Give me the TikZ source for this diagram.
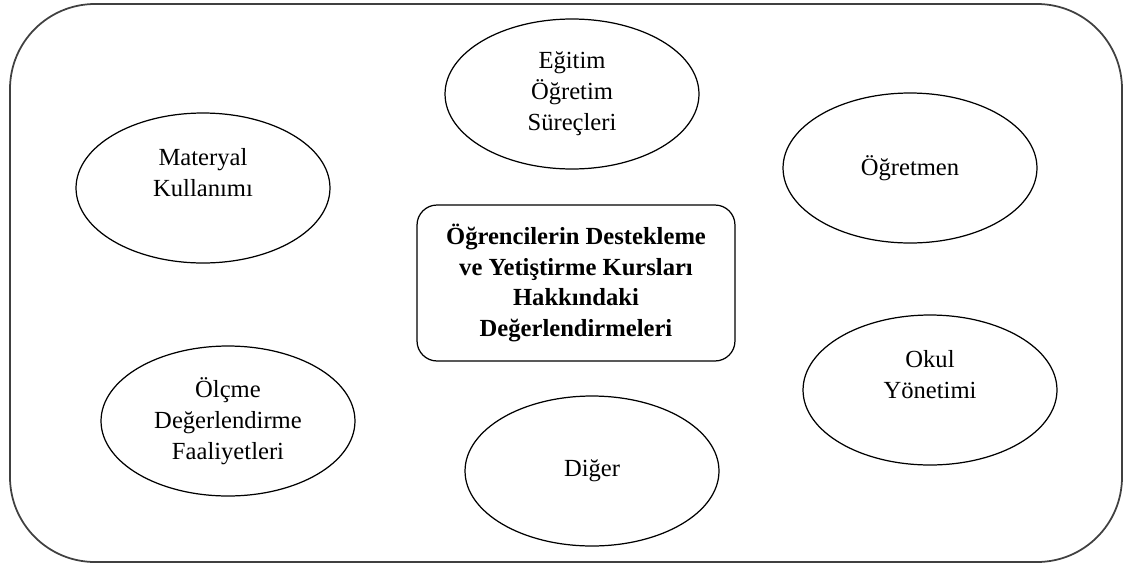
\documentclass[tikz,border=0pt]{standalone}
\usepackage{fontspec}
\setmainfont{Liberation Serif}
\usetikzlibrary{shapes.geometric}

\tikzset{
	oval/.style={draw, ellipse, inner sep=0pt, minimum width=5.08cm, minimum height=3cm, line width=0.7pt, align=center, font=\fontsize{14}{17.6}\selectfont},
	ovaltext/.style={align=center, inner sep=0pt, font=\fontsize{14}{17.6}\selectfont},
	konu/.style={draw, rounded corners=0.4cm, minimum width=6.36cm, minimum height=3.12cm, line width=0.7pt, align=center, font=\fontsize{14}{17.6}\selectfont\bfseries}
}

\begin{document}
\begin{tikzpicture}[x=0.02cm, y=-0.02cm]
	\useasboundingbox (0,0) rectangle (1125,565);
	\draw[line width=1pt, black!75, rounded corners=1.7cm] (10,4) rectangle (1122,562);

	\node[konu] (konu) at (576,283) {Öğrencilerin Destekleme\\ve Yetiştirme Kursları\\Hakkındaki\\Değerlendirmeleri};

	\node[oval] (egitim) at (572,94) {Eğitim\\Öğretim\\Süreçleri};
	\node[oval] (materyal) at (203,188) {};
	\node[ovaltext] (materyaltext) at ([yshift=0.3cm]materyal.center) {Materyal\\Kullanımı};
	\node[oval] (ogretmen) at (910,168) {Öğretmen};
	\node[oval] (okul) at (930,390) {};
	\node[ovaltext] (okultext) at ([yshift=0.3cm]okul.center) {Okul\\Yönetimi};
	\node[oval] (olcme) at (228,421) {Ölçme\\Değerlendirme\\Faaliyetleri};
	\node[oval] (diger) at (592,471) {Diğer};
\end{tikzpicture}
\end{document}
